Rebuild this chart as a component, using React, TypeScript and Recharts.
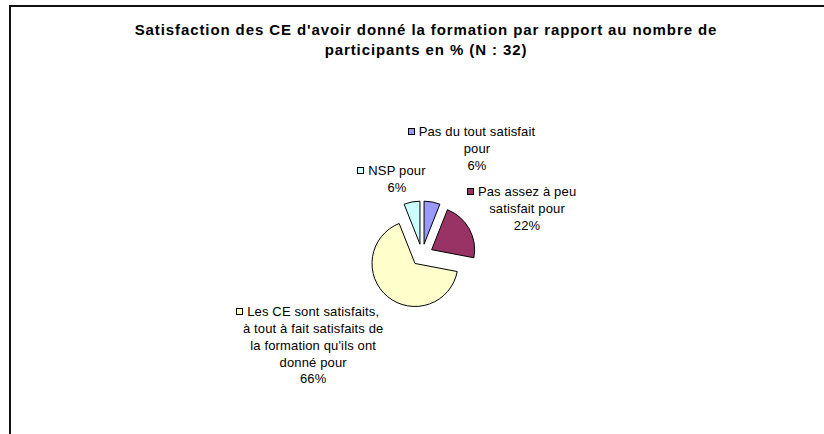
import { PieChart, Pie, Cell, Sector } from "recharts";

const categories = [
  "Pas du tout satisfait",
  "Pas assez à peu satisfait",
  "Les CE sont satisfaits, à tout à fait satisfaits de la formation qu'ils ont donné",
  "NSP",
];
const percents = [6, 22, 66, 6];
// how Excel wrapped each label (the "pour" is part of the label text)
const labelLines = [
  ["Pas du tout satisfait", "pour"],
  ["Pas assez à peu", "satisfait pour"],
  ["Les CE sont satisfaits,", "à tout à fait satisfaits de", "la formation qu'ils ont", "donné pour"],
  ["NSP pour"],
];
const titleLines = [
  "Satisfaction des CE d'avoir donné la formation par rapport au nombre de",
  "participants en % (N : 32)",
];

const colors = ["#9999FF", "#993366", "#FFFFCC", "#CCFFFF"];
// label offsets from the slice direction anchor
const labelNudge = [
  [43, -55],
  [49, -27],
  [-68, 13],
  [-13, -16],
];

const data = categories.map((name, i) => ({ name, value: percents[i] }));

const FONT = '"Liberation Sans", Arial, sans-serif';
const EXPLODE = 11;
const LINE = 16.7;
const RAD = Math.PI / 180;

const renderSlice = (props: any) => {
  const { cx, cy, midAngle } = props;
  const dx = EXPLODE * Math.cos(-midAngle * RAD);
  const dy = EXPLODE * Math.sin(-midAngle * RAD);
  return <Sector {...props} cx={cx + dx} cy={cy + dy} />;
};

const renderLabel = (props: any) => {
  const { cx, cy, midAngle, outerRadius, index, value } = props;
  const r = outerRadius + EXPLODE + 10;
  const ax = cx + r * Math.cos(-midAngle * RAD);
  const ay = cy + r * Math.sin(-midAngle * RAD);
  const [nx, ny] = labelNudge[index];
  const tx = ax + nx;
  const baseline = ay + ny;
  const lines = [...labelLines[index], `${value}%`];
  return (
    <foreignObject
      key={`lbl-${index}`}
      x={tx - 110}
      y={baseline - 12.9}
      width={220}
      height={lines.length * LINE + 6}
    >
      <div
        style={{
          fontFamily: FONT,
          fontSize: 13,
          lineHeight: `${LINE}px`,
          letterSpacing: "0.15px",
          textAlign: "center",
          color: "#000",
          whiteSpace: "nowrap",
        }}
      >
        {lines.map((l, i) => (
          <div key={i}>
            {i === 0 && (
              <span style={{ position: "relative", display: "inline-block", width: 0 }}>
                <span
                  style={{
                    position: "absolute",
                    left: -11,
                    top: -8,
                    width: 5,
                    height: 5,
                    background: colors[index],
                    border: "1px solid #000",
                  }}
                />
              </span>
            )}
            {l}
          </div>
        ))}
      </div>
    </foreignObject>
  );
};

export default function App() {
  return (
    <div
      style={{
        position: "absolute",
        left: 0,
        top: 0,
        width: 824,
        height: 434,
        overflow: "hidden",
        background: "#fff",
      }}
    >
      <div
        style={{
          position: "absolute",
          left: 9,
          top: 5,
          width: 900,
          height: 500,
          borderTop: "2px solid #111",
          borderLeft: "2px solid #111",
        }}
      />
      <div
        style={{
          position: "absolute",
          left: 76,
          top: 19.5,
          width: 700,
          textAlign: "center",
          fontFamily: FONT,
          fontWeight: "bold",
          fontSize: 15,
          letterSpacing: "0.9px",
          lineHeight: "20px",
          color: "#000",
          whiteSpace: "nowrap",
        }}
      >
        {titleLines.map((t, i) => (
          <div key={i}>{t}</div>
        ))}
      </div>
      <div style={{ position: "absolute", left: 0, top: 0 }}>
        <PieChart width={824} height={434} margin={{ top: 0, right: 0, bottom: 0, left: 0 }}>
          <Pie
            data={data}
            dataKey="value"
            nameKey="name"
            cx={422}
            cy={255}
            outerRadius={43}
            startAngle={90}
            endAngle={-270}
            stroke="#000"
            strokeWidth={1}
            shape={renderSlice}
            label={renderLabel}
            labelLine={false}
            isAnimationActive={false}
          >
            {data.map((d, i) => (
              <Cell key={d.name} fill={colors[i]} />
            ))}
          </Pie>
        </PieChart>
      </div>
    </div>
  );
}
